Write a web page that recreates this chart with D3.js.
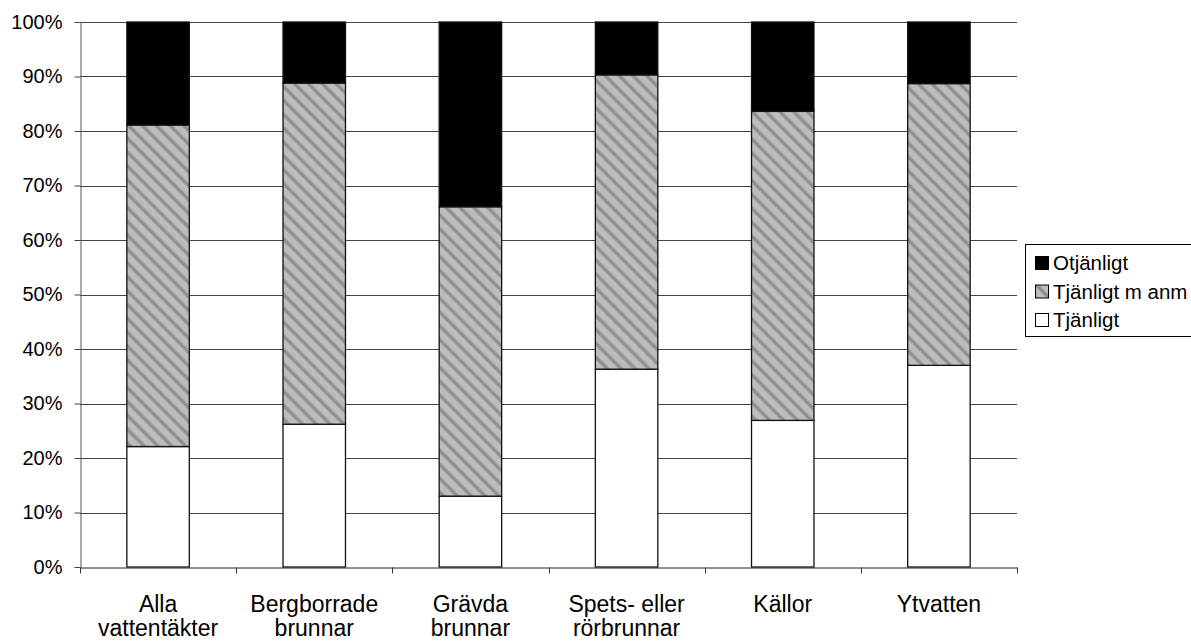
<!DOCTYPE html>
<html>
<head>
<meta charset="utf-8">
<script src="https://cdn.jsdelivr.net/npm/d3@7"></script>
<style>
  html, body { margin: 0; padding: 0; background: #fff; }
  svg { display: block; font-family: "Liberation Sans", Arial, sans-serif; }
</style>
</head>
<body>
<svg id="chart" width="1191" height="643"></svg>
<script>
const categories = [
  ["Alla", "vattentäkter"],
  ["Bergborrade", "brunnar"],
  ["Grävda", "brunnar"],
  ["Spets- eller", "rörbrunnar"],
  ["Källor"],
  ["Ytvatten"]
];
const tjanligt      = [22.1, 26.2, 13.0, 36.3, 26.9, 37.0];
const tjanligtMAnm  = [59.0, 62.6, 53.1, 54.0, 56.7, 51.7];
const otjanligt     = [18.9, 11.2, 33.9,  9.7, 16.4, 11.3];
const seriesNames = ["Tjänligt", "Tjänligt m anm", "Otjänligt"];
const yTicks = [0, 10, 20, 30, 40, 50, 60, 70, 80, 90, 100];

const svg = d3.select("#chart");
const margin = { left: 80, right: 1017, top: 22, bottom: 567 };

// hatch pattern
const defs = svg.append("defs");
const pat = defs.append("pattern")
  .attr("id", "hatch")
  .attr("patternUnits", "userSpaceOnUse")
  .attr("width", 9.8).attr("height", 9.8)
  .attr("patternTransform", "rotate(-45)");
pat.append("rect").attr("width", 9.8).attr("height", 9.8).attr("fill", "#bdbdbd");
pat.append("rect").attr("x", 0).attr("width", 4.2).attr("height", 9.8).attr("fill", "#a5a5a5");
pat.append("rect").attr("x", 0.9).attr("width", 2.4).attr("height", 9.8).attr("fill", "#8e8e8e");

const keys = categories.map(c => c.join(" "));
const x = d3.scaleBand().domain(keys).range([margin.left, margin.right]).paddingInner(0).paddingOuter(0);
const y = d3.scaleLinear().domain([0, 100]).range([margin.bottom, margin.top]);

// gridlines
svg.append("g").selectAll("line").data(yTicks.filter(d => d > 0)).join("line")
  .attr("x1", margin.left).attr("x2", margin.right)
  .attr("y1", d => Math.round(y(d)) + 0.5).attr("y2", d => Math.round(y(d)) + 0.5)
  .attr("stroke", "#444").attr("stroke-width", 1);

// stacked data
const rows = keys.map((k, i) => ({ key: k, "Tjänligt": tjanligt[i], "Tjänligt m anm": tjanligtMAnm[i], "Otjänligt": otjanligt[i] }));
const stack = d3.stack().keys(seriesNames);
const stacked = stack(rows);
const fills = { "Tjänligt": "#ffffff", "Tjänligt m anm": "url(#hatch)", "Otjänligt": "#000000" };

const bw = x.bandwidth();
stacked.forEach(s => {
  svg.append("g").selectAll("rect").data(s).join("rect")
    .attr("x", d => x(d.data.key) + bw * 0.3)
    .attr("width", bw * 0.4)
    .attr("y", d => y(Math.min(100, d[1])))
    .attr("height", d => y(d[0]) - y(Math.min(100, d[1])))
    .attr("fill", fills[s.key])
    .attr("stroke", "#111")
    .attr("stroke-width", 1.3);
});

// y axis
const yAxis = d3.axisLeft(y).tickValues(yTicks).tickFormat(d => d + "%").tickSize(6).tickPadding(12);
const gy = svg.append("g").attr("transform", `translate(${margin.left + 0.5},0)`).call(yAxis);
gy.select(".domain").attr("stroke", "#555");
gy.selectAll(".tick line").attr("stroke", "#444");
gy.selectAll(".tick text").attr("font-size", 20).attr("fill", "#000")
  .attr("font-family", "'Liberation Sans', Arial, sans-serif");

// x axis
const gx = svg.append("g").attr("transform", `translate(0,${margin.bottom + 0.5})`)
  .call(d3.axisBottom(x).tickSize(0).tickFormat(""));
gx.select(".domain").attr("stroke", "#222");
const bounds = keys.map(k => x(k)).concat([margin.right]);
gx.append("g").selectAll("line").data(bounds).join("line")
  .attr("x1", d => Math.round(d) + 0.5).attr("x2", d => Math.round(d) + 0.5)
  .attr("y1", 0).attr("y2", 6).attr("stroke", "#333");

// category labels
const labels = svg.append("g").attr("font-size", 23).attr("fill", "#000").attr("text-anchor", "middle");
categories.forEach((lines, i) => {
  const cx = x(keys[i]) + bw / 2;
  lines.forEach((t, j) => {
    labels.append("text").attr("x", cx).attr("y", 612 + j * 24).text(t);
  });
});

// legend
const lg = svg.append("g");
lg.append("rect").attr("x", 1025.5).attr("y", 244.5).attr("width", 170).attr("height", 92)
  .attr("fill", "#fff").attr("stroke", "#000").attr("stroke-width", 1);
const legendItems = ["Otjänligt", "Tjänligt m anm", "Tjänligt"];
legendItems.forEach((name, i) => {
  const cy = 263 + i * 28.5;
  lg.append("rect").attr("x", 1035.5).attr("y", cy - 6.5).attr("width", 13).attr("height", 13)
    .attr("fill", fills[name]).attr("stroke", "#000").attr("stroke-width", 1);
  lg.append("text").attr("x", 1053).attr("y", cy + 7).attr("font-size", 20.5).attr("fill", "#000").text(name);
});
</script>
</body>
</html>
